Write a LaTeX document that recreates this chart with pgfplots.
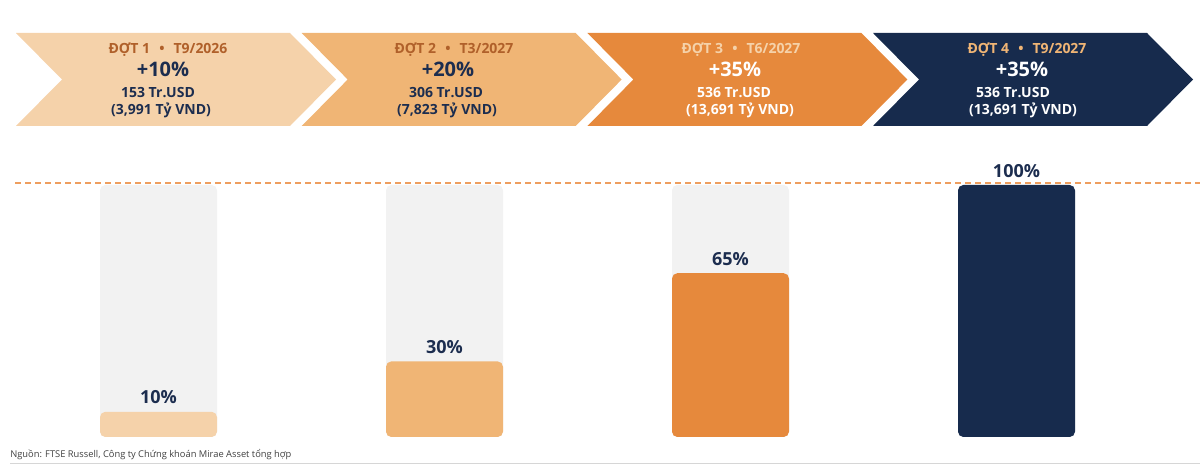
\documentclass[border=0pt]{standalone}
\usepackage{pgfplots}
\pgfplotsset{compat=1.18}
\usepackage{fontspec}
\setmainfont{Open Sans}
\definecolor{peach}{HTML}{F5D2AA}
\definecolor{lightorange}{HTML}{F0B575}
\definecolor{orange}{HTML}{E6893C}
\definecolor{navy}{HTML}{172B4D}
\definecolor{navytext}{HTML}{1C2D4F}
\definecolor{hdrbrown}{HTML}{B0602A}
\definecolor{barbg}{HTML}{F2F2F2}
\definecolor{dashorange}{HTML}{EE9E5E}
\definecolor{srcgray}{HTML}{404040}
\definecolor{rulegray}{HTML}{D6D6D6}

\newcommand{\hdrfont}{\bfseries\fontsize{10.5}{12}\selectfont}
\newcommand{\bigfont}{\bfseries\fontsize{15}{18}\selectfont}
\newcommand{\midfont}{\bfseries\fontsize{10.5}{12.5}\selectfont}
\newcommand{\sep}{\hspace{0.65em}•\hspace{0.65em}}

\begin{document}
\begin{tikzpicture}
% page = 1200 x 467 px, 1 px = 0.75pt
\path[use as bounding box] (0,0) rectangle (900pt,350.25pt);

% bars: categories at x = 0..3, values in percent
\begin{axis}[
    at={(11.625pt,22.5pt)}, anchor=south west,
    width=858pt, height=189pt, scale only axis,
    hide axis, clip=false,
    xmin=-0.5, xmax=3.5, ymin=0, ymax=100,
    ybar, bar width=87.75pt,
    every axis plot/.append style={bar shift=0pt, draw=none, rounded corners=4pt},
    /pgf/number format/assume math mode=true,
    nodes near coords={\pgfmathprintnumber{\pgfplotspointmeta}\%},
    every node near coord/.append style={font=\bfseries\fontsize{13.5}{16}\selectfont,
        text=navytext, inner sep=0pt, yshift=5.6pt},
  ]
  \addplot[fill=barbg, nodes near coords={}] coordinates {(0,100) (1,100) (2,100) (3,100)};
  \addplot[fill=peach] coordinates {(0,10)};
  \addplot[fill=lightorange] coordinates {(1,30)};
  \addplot[fill=orange] coordinates {(2,65)};
  \addplot[fill=navy] coordinates {(3,100)};
\end{axis}

% frame in pixel units (y downwards)
\begin{axis}[
    at={(0pt,0pt)}, anchor=south west,
    width=900pt, height=350.25pt, scale only axis,
    hide axis, clip=false,
    xmin=0, xmax=1200, ymin=0, ymax=467, y dir=reverse,
  ]
  \fill[peach] (16,33) -- (290,33) -- (336,79.5) -- (290,126) -- (16,126) -- (62,79.5) -- cycle;
  \fill[lightorange] (301.7,33) -- (575.7,33) -- (621.7,79.5) -- (575.7,126) -- (301.7,126) -- (347.7,79.5) -- cycle;
  \fill[orange] (587.4,33) -- (861.4,33) -- (907.4,79.5) -- (861.4,126) -- (587.4,126) -- (633.4,79.5) -- cycle;
  \fill[navy] (873,33) -- (1147,33) -- (1193,79.5) -- (1147,126) -- (873,126) -- (919,79.5) -- cycle;

  \node[anchor=base, inner sep=0pt, text=hdrbrown, font=\hdrfont] at (168,53.3) {ĐỢT 1\sep T9/2026};
  \node[anchor=base, inner sep=0pt, text=navytext, font=\bigfont] at (163,76.7) {+10\%};
  \node[anchor=base, inner sep=0pt, text=navytext, font=\midfont] at (158,97.7) {153 Tr.USD};
  \node[anchor=base, inner sep=0pt, text=navytext, font=\midfont] at (161,114) {(3,991 Tỷ VND)};

  \node[anchor=base, inner sep=0pt, text=hdrbrown, font=\hdrfont] at (454,53.3) {ĐỢT 2\sep T3/2027};
  \node[anchor=base, inner sep=0pt, text=navytext, font=\bigfont] at (448,76.7) {+20\%};
  \node[anchor=base, inner sep=0pt, text=navytext, font=\midfont] at (446,97.7) {306 Tr.USD};
  \node[anchor=base, inner sep=0pt, text=navytext, font=\midfont] at (447,114) {(7,823 Tỷ VND)};

  \node[anchor=base, inner sep=0pt, text=peach, font=\hdrfont] at (741,53.3) {ĐỢT 3\sep T6/2027};
  \node[anchor=base, inner sep=0pt, text=white, font=\bigfont] at (735,76.7) {+35\%};
  \node[anchor=base, inner sep=0pt, text=white, font=\midfont] at (734,97.7) {536 Tr.USD};
  \node[anchor=base, inner sep=0pt, text=white, font=\midfont] at (740,114) {(13,691 Tỷ VND)};

  \node[anchor=base, inner sep=0pt, text=lightorange, font=\hdrfont] at (1027,53.3) {ĐỢT 4\sep T9/2027};
  \node[anchor=base, inner sep=0pt, text=white, font=\bigfont] at (1022,76.7) {+35\%};
  \node[anchor=base, inner sep=0pt, text=white, font=\midfont] at (1013,97.7) {536 Tr.USD};
  \node[anchor=base, inner sep=0pt, text=white, font=\midfont] at (1023,114) {(13,691 Tỷ VND)};

  \draw[dashorange, line width=1.1pt, dash pattern=on 4.5pt off 3pt] (15,183) -- (1200,183);

  \node[anchor=base west, inner sep=0pt, text=srcgray, font=\fontsize{7}{8}\selectfont] at (10,457)
    {Nguồn: FTSE Russell, Công ty Chứng khoán Mirae Asset tổng hợp};
  \draw[rulegray, line width=0.75pt] (10,463.5) -- (1200,463.5);
\end{axis}
\end{tikzpicture}
\end{document}
